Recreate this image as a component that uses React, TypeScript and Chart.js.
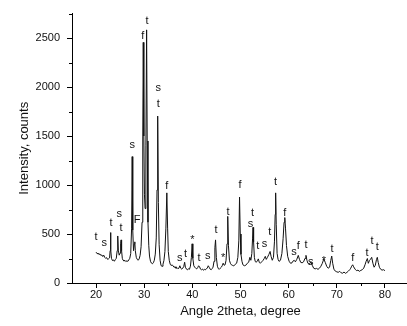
import React, { useEffect, useRef } from "react";
import { Chart, registerables } from "chart.js";

Chart.register(...registerables);

// 2theta angles (degree)
const angles: number[] = [
  20.0, 20.2, 20.4, 20.6, 20.8, 21.0, 21.2, 21.4, 21.6, 21.8,
  22.0, 22.2, 22.4, 22.6, 22.8, 22.92, 23.0, 23.08, 23.2, 23.4,
  23.6, 23.8, 24.0, 24.2, 24.38, 24.5, 24.62, 24.8, 24.98, 25.1,
  25.2, 25.3, 25.45, 25.6, 25.8, 26.0, 26.2, 26.4, 26.6, 26.8,
  27.0, 27.2, 27.38, 27.5, 27.62, 27.78, 27.95, 28.05, 28.15, 28.35,
  28.55, 28.75, 28.95, 29.15, 29.35, 29.55, 29.7, 29.8, 29.92, 30.05,
  30.18, 30.35, 30.5, 30.62, 30.78, 30.95, 31.1, 31.3, 31.5, 31.7,
  31.9, 32.1, 32.3, 32.5, 32.66, 32.8, 32.94, 33.1, 33.3, 33.5,
  33.7, 33.9, 34.1, 34.3, 34.5, 34.7, 34.86, 35.0, 35.2, 35.4,
  35.6, 35.8, 36.0, 36.2, 36.4, 36.6, 36.8, 37.0, 37.2, 37.4,
  37.6, 37.8, 38.0, 38.2, 38.4, 38.55, 38.8, 39.0, 39.2, 39.4,
  39.6, 39.8, 39.95, 40.1, 40.3, 40.5, 40.7, 40.9, 41.1, 41.3,
  41.5, 41.7, 41.9, 42.1, 42.3, 42.5, 42.7, 42.9, 43.1, 43.3,
  43.5, 43.7, 43.9, 44.1, 44.3, 44.5, 44.68, 44.82, 44.98, 45.2,
  45.4, 45.6, 45.8, 46.0, 46.2, 46.4, 46.6, 46.8, 47.0, 47.2,
  47.35, 47.5, 47.7, 47.9, 48.1, 48.3, 48.6, 48.9, 49.2, 49.45,
  49.65, 49.8, 49.95, 50.1, 50.3, 50.5, 50.8, 51.1, 51.4, 51.7,
  51.95, 52.15, 52.35, 52.5, 52.6, 52.72, 52.88, 53.05, 53.25, 53.5,
  53.7, 53.9, 54.1, 54.4, 54.7, 54.95, 55.15, 55.35, 55.6, 55.9,
  56.15, 56.35, 56.6, 56.85, 57.05, 57.2, 57.3, 57.42, 57.6, 57.8,
  58.0, 58.3, 58.6, 58.85, 59.05, 59.2, 59.35, 59.55, 59.8, 60.1,
  60.4, 60.7, 60.95, 61.15, 61.4, 61.7, 62.0, 62.25, 62.5, 62.8,
  63.1, 63.4, 63.6, 63.8, 64.0, 64.3, 64.6, 64.9, 65.2, 65.5,
  65.8, 66.1, 66.4, 66.7, 67.0, 67.3, 67.6, 67.9, 68.2, 68.5,
  68.75, 68.95, 69.15, 69.4, 69.7, 70.0, 70.3, 70.6, 70.9, 71.2,
  71.5, 71.8, 72.1, 72.4, 72.7, 72.9, 73.1, 73.3, 73.5, 73.8,
  74.1, 74.4, 74.7, 75.0, 75.3, 75.6, 75.9, 76.1, 76.35, 76.55,
  76.8, 77.0, 77.25, 77.5, 77.75, 78.0, 78.25, 78.42, 78.6, 78.85,
  79.1, 79.4, 79.7, 80.0,
];

// Intensity (counts)
const counts: number[] = [
  315, 300, 306, 290, 297, 281, 286, 270, 284, 262,
  251, 259, 241, 247, 256, 330, 515, 340, 252, 229,
  236, 222, 239, 252, 330, 480, 335, 284, 305, 400,
  440, 330, 252, 233, 224, 231, 218, 227, 221, 236,
  252, 300, 560, 1290, 540, 330, 400, 420, 330, 262,
  241, 232, 246, 282, 370, 620, 1500, 2456, 1500, 900,
  760, 1400, 2584, 1450, 620, 380, 275, 222, 203, 196,
  207, 232, 295, 460, 950, 1704, 820, 390, 232, 177,
  171, 192, 231, 320, 560, 920, 560, 322, 232, 192,
  178, 186, 174, 160, 166, 150, 158, 146, 151, 176,
  150, 141, 152, 166, 212, 161, 140, 134, 146, 140,
  172, 262, 400, 252, 176, 161, 150, 144, 156, 176,
  165, 141, 135, 143, 130, 139, 134, 146, 151, 176,
  160, 141, 135, 146, 162, 222, 360, 440, 262, 171,
  146, 140, 151, 160, 176, 202, 181, 186, 232, 400,
  680, 380, 232, 201, 186, 181, 174, 191, 202, 262,
  430, 877, 500, 292, 222, 186, 176, 181, 201, 212,
  262, 232, 300, 450, 568, 420, 262, 222, 211, 226,
  246, 211, 201, 216, 232, 252, 272, 241, 262, 292,
  322, 272, 232, 262, 420, 700, 920, 600, 302, 242,
  221, 232, 302, 452, 620, 668, 560, 382, 272, 222,
  201, 206, 226, 232, 216, 242, 282, 241, 211, 206,
  216, 252, 282, 232, 201, 191, 216, 181, 151, 144,
  149, 139, 151, 171, 201, 245, 211, 171, 151, 161,
  230, 275, 201, 141, 121, 114, 109, 119, 104, 100,
  112, 99, 108, 121, 136, 151, 172, 186, 165, 141,
  126, 131, 119, 129, 136, 152, 191, 222, 250, 201,
  231, 242, 262, 202, 161, 181, 241, 262, 211, 161,
  141, 131, 136, 126,
];

// Phase marks over the peaks
const markTexts: string[] = [
  "t", "s", "t", "s", "t", "s", "F", "f", "t", "s",
  "t", "f", "s", "t", "*", "t", "s", "t", "*", "t",
  "f", "s", "t", "t", "s", "t", "t", "f", "s", "f",
  "t", "s", "*", "t", "f", "t", "t", "t",
];
const markAngles: number[] = [
  20.0, 21.7, 23.1, 24.8, 25.2, 27.5, 28.5, 29.7, 30.6, 32.9,
  32.9, 34.7, 37.4, 38.6, 40.0, 41.4, 43.2, 44.9, 46.4, 47.4,
  49.9, 52.1, 52.5, 53.6, 55.0, 56.1, 57.3, 59.2, 61.1, 62.0,
  63.6, 64.6, 67.3, 69.0, 73.3, 76.3, 77.3, 78.4,
];
const markLevels: number[] = [
  474, 413, 615, 706, 565, 1411, 645, 2520, 2671, 1986,
  1825, 988, 255, 292, 440, 259, 272, 541, 255, 729,
  998, 602, 719, 383, 400, 517, 1031, 719, 316, 383,
  392, 215, 225, 350, 259, 309, 433, 366,
];

const xMajorTicks: number[] = [20, 30, 40, 50, 60, 70, 80];
const yMajorTicks: number[] = [0, 500, 1000, 1500, 2000, 2500];
const xMinorTicks: number[] = [25, 35, 45, 55, 65, 75, 85];
const yMinorTicks: number[] = [250, 750, 1250, 1750, 2250, 2750];

const FONT = '"Liberation Sans", Arial, sans-serif';

const decorPlugin = {
  id: "decor",
  afterDraw(chart: any) {
    const { ctx, chartArea } = chart;
    const x = chart.scales.x;
    const y = chart.scales.y;
    ctx.save();
    ctx.strokeStyle = "#000";
    ctx.lineWidth = 1;
    ctx.beginPath();
    xMinorTicks.forEach((v) => {
      const px = Math.round(x.getPixelForValue(v)) + 0.5;
      ctx.moveTo(px, chartArea.bottom);
      ctx.lineTo(px, chartArea.bottom + 3);
    });
    yMinorTicks.forEach((v) => {
      const py = Math.round(y.getPixelForValue(v)) + 0.5;
      ctx.moveTo(chartArea.left, py);
      ctx.lineTo(chartArea.left - 3, py);
    });
    ctx.stroke();
    ctx.font = `11px ${FONT}`;
    ctx.textAlign = "center";
    ctx.textBaseline = "middle";
    ctx.fillStyle = "#111";
    markTexts.forEach((t, i) => {
      ctx.fillText(t, x.getPixelForValue(markAngles[i]), y.getPixelForValue(markLevels[i]));
    });
    ctx.restore();
  },
};

export default function App() {
  const canvasRef = useRef<HTMLCanvasElement | null>(null);

  useEffect(() => {
    const canvas = canvasRef.current;
    if (!canvas) return;
    const chart = new Chart(canvas, {
      type: "line",
      data: {
        datasets: [
          {
            data: angles.map((a, i) => ({ x: a, y: counts[i] })),
            borderColor: "#111",
            borderWidth: 1,
            pointRadius: 0,
            tension: 0,
            fill: false,
          },
        ],
      },
      options: {
        animation: false,
        responsive: false,
        devicePixelRatio: 1,
        parsing: false,
        layout: { padding: { left: 0, top: 10, right: 11, bottom: 0 } },
        plugins: { legend: { display: false }, tooltip: { enabled: false } },
        scales: {
          x: {
            type: "linear",
            min: 15,
            max: 85,
            border: { display: true, color: "#000", width: 1 },
            grid: { display: true, drawOnChartArea: false, drawTicks: true, tickLength: 5, tickColor: "#000" },
            ticks: {
              color: "#111",
              padding: 0,
              maxRotation: 0,
              autoSkip: false,
              font: { size: 11, family: FONT },
              callback: (v: any) => String(v),
            },
            afterBuildTicks: (s: any) => {
              s.ticks = xMajorTicks.map((v) => ({ value: v }));
            },
            title: {
              display: true,
              text: "Angle 2theta, degree",
              color: "#111",
              font: { size: 13, family: FONT },
              padding: { top: 0, bottom: 7 },
            },
            afterFit: (s: any) => {
              s.height = 43;
            },
          },
          y: {
            type: "linear",
            min: 0,
            max: 2750,
            border: { display: true, color: "#000", width: 1 },
            grid: { display: true, drawOnChartArea: false, drawTicks: true, tickLength: 5, tickColor: "#000" },
            ticks: {
              color: "#111",
              padding: 7,
              autoSkip: false,
              font: { size: 11, family: FONT },
              callback: (v: any) => String(v),
            },
            afterBuildTicks: (s: any) => {
              s.ticks = yMajorTicks.map((v) => ({ value: v }));
            },
            title: {
              display: true,
              text: "Intensity, counts",
              color: "#111",
              font: { size: 13, family: FONT },
              padding: { top: 17, bottom: 0 },
            },
            afterFit: (s: any) => {
              s.width = 72;
            },
          },
        },
      },
      plugins: [decorPlugin],
    });
    return () => chart.destroy();
  }, []);

  return (
    <div style={{ position: "fixed", left: 0, top: 0, width: 407, height: 326, overflow: "hidden", background: "#fff" }}>
      <canvas ref={canvasRef} width={420} height={326} style={{ width: 420, height: 326, display: "block" }} />
    </div>
  );
}
